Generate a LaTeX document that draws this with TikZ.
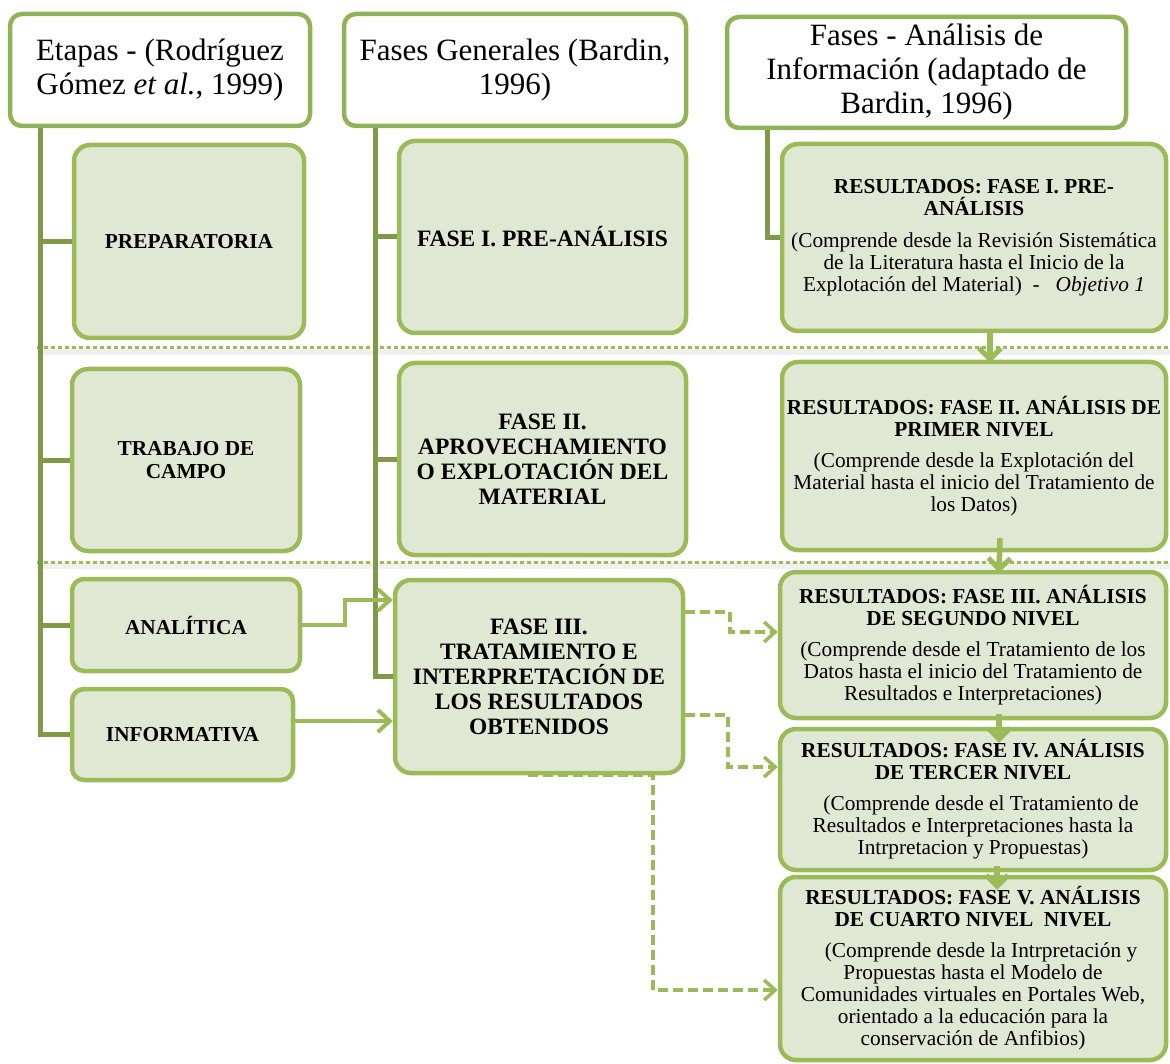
\documentclass[tikz,border=0pt]{standalone}
\usepackage{fontspec}
\setmainfont{Liberation Serif}
\usetikzlibrary{arrows.meta,calc}
\definecolor{boxfill}{HTML}{E0E8D3}
\definecolor{boxline}{HTML}{9BBB59}
\definecolor{spinecol}{HTML}{7E9A48}
\definecolor{headline}{HTML}{8FB356}

\begin{document}
\begin{tikzpicture}[x=1pt,y=-1pt,
  header/.style={draw=headline, line width=4.5pt, fill=white, rounded corners=12pt,
    inner sep=0pt, align=center, font=\fontsize{31}{34}\selectfont},
  stage/.style={draw=boxline, line width=4.5pt, fill=boxfill, rounded corners=16pt,
    inner sep=0pt, align=center},
  leftfont/.style={font=\fontsize{21.3}{23}\selectfont\bfseries},
  midfont/.style={font=\fontsize{23.5}{25}\selectfont\bfseries},
  rightfont/.style={font=\fontsize{21.3}{22}\selectfont},
  spine/.style={draw=spinecol, line width=5pt},
  sepline/.style={draw=boxline, line width=3pt, dash pattern=on 3.5pt off 3.5pt},
  sepshadow/.style={draw=black, opacity=0.06, line width=6pt},
  solidarr/.style={draw=boxline, line width=4.5pt,
    -{Straight Barb[length=12pt,width=22pt,line width=4pt]}},
  dasharr/.style={draw=boxline, line width=3.5pt, dash pattern=on 10pt off 5pt,
    -{Straight Barb[length=11pt,width=20pt,line width=3.5pt]}},
  downarr/.style={draw=boxline, line width=5.5pt,
    -{Straight Barb[length=11pt,width=22pt,line width=5pt]}}
]
\useasboundingbox (0,0) rectangle (1170,1064);
\clip (0,0) rectangle (1170,1064);

% dotted separators between the rows, with a soft shade beneath
\coordinate (sepA1) at (37,348);  \coordinate (sepA2) at (1170,348);
\coordinate (sepB1) at (37,562);  \coordinate (sepB2) at (1170,562);
\draw[sepshadow] ([yshift=-4pt]sepA1) -- ([yshift=-4pt]sepA2);
\draw[sepshadow] ([yshift=-4pt]sepB1) -- ([yshift=-4pt]sepB2);
\draw[sepline] (sepA1) -- (sepA2);
\draw[sepline] (sepB1) -- (sepB2);

% column headers
\node[header, minimum width=300pt, minimum height=112pt] (H1) at (160,70)
  {Etapas - (Rodríguez\\Gómez \textit{et al.}, 1999)};
\node[header, minimum width=342pt, minimum height=112pt] (H2) at (515,70)
  {Fases Generales (Bardin,\\1996)};
\node[header, minimum width=399pt, minimum height=111pt] (H3) at (926.5,72.5)
  {Fases - Análisis de\\Información (adaptado de\\Bardin, 1996)};

% stages
\node[stage, leftfont, minimum width=230pt, minimum height=193pt] (L1) at (189,241.5) {PREPARATORIA};
\node[stage, leftfont, minimum width=228pt, minimum height=182pt] (L2) at (186,460) {TRABAJO DE\\CAMPO};
\node[stage, leftfont, rounded corners=12pt, minimum width=228pt, minimum height=92pt] (L3) at (186,625) {ANALÍTICA};
\node[stage, leftfont, rounded corners=12pt, minimum width=221pt, minimum height=91pt] (L4) at (182.5,734.5) {INFORMATIVA};

% general phases
\node[stage, midfont, minimum width=287pt, minimum height=192pt] (M1) at (542.5,237) {FASE I. PRE-ANÁLISIS};
\node[stage, midfont, minimum width=287pt, minimum height=192pt] (M2) at (542.5,459)
  {FASE II.\\APROVECHAMIENTO\\O EXPLOTACIÓN DEL\\MATERIAL};
\node[stage, midfont, minimum width=288pt, minimum height=193pt] (M3) at (539,676.5)
  {FASE III.\\TRATAMIENTO E\\INTERPRETACIÓN DE\\LOS RESULTADOS\\OBTENIDOS};

% analysis phases
\node[stage, rightfont, minimum width=384pt, minimum height=187pt] (R1) at (974,237.5)
  {\textbf{RESULTADOS: FASE I. PRE-}\\\textbf{ANÁLISIS}\\[10pt]
   (Comprende desde la Revisión Sistemática\\de la Literatura hasta el Inicio de la\\
   Explotación del Material)\ \ -\ \ \ \textit{Objetivo 1}};
\node[stage, rightfont, minimum width=384pt, minimum height=188pt] (R2) at (974,456)
  {\textbf{RESULTADOS: FASE II. ANÁLISIS DE}\\\textbf{PRIMER NIVEL}\\[9pt]
   (Comprende desde la Explotación del\\Material hasta el inicio del Tratamiento de\\los Datos)};
\node[stage, rightfont, minimum width=386pt, minimum height=146pt] (R3) at (973,645)
  {\textbf{RESULTADOS: FASE III. ANÁLISIS}\\\textbf{DE SEGUNDO NIVEL}\\[9pt]
   (Comprende desde el Tratamiento de los\\Datos hasta el inicio del Tratamiento de\\
   Resultados e Interpretaciones)};
\node[stage, rightfont, minimum width=386pt, minimum height=141pt] (R4) at (973,799.5)
  {\textbf{RESULTADOS: FASE IV. ANÁLISIS}\\\textbf{DE TERCER NIVEL}\\[9pt]
   \ \ \ (Comprende desde el Tratamiento de\\Resultados e Interpretaciones hasta la\\
   Intrpretacion y Propuestas)};
\node[stage, rightfont, minimum width=386pt, minimum height=183pt] (R5) at (973,968.5)
  {\textbf{RESULTADOS: FASE V. ANÁLISIS}\\\textbf{DE CUARTO NIVEL\ \ NIVEL}\\[9pt]
   \ \ \ (Comprende desde la Intrpretación y\\Propuestas hasta el Modelo de\\
   Comunidades virtuales en Portales Web,\\orientado a la educación para la\\
   conservación de Anfibios)};

% hierarchy spines
\coordinate (ls) at (40,128);
\draw[spine] (ls) |- (L4.west);
\foreach \n in {L1,L2,L3} \draw[spine] (ls |- \n.west) -- (\n.west);
\coordinate (ms) at (375,128);
\draw[spine] (ms) |- (M3.west);
\foreach \n in {M1,M2} \draw[spine] (ms |- \n.west) -- (\n.west);
\coordinate (rs) at (767,130);
\draw[spine] (rs) |- (R1.west);

% stages feeding phase III
\coordinate (a1) at (345,625);
\coordinate (a2) at (345,600);
\draw[solidarr] (L3.east) -- (a1) -- (a2) -- (M3.west |- a2);
\coordinate (b1) at (295,721);
\draw[solidarr] (L4.east |- b1) -- (M3.west |- b1);

% phase III to the analysis levels
\coordinate (d1) at (730,612);
\coordinate (d2) at (730,632);
\draw[dasharr] (M3.east |- d1) -- (d1) -- (d2) -- (R3.west |- d2);
\coordinate (e1) at (728,715);
\coordinate (e2) at (728,767);
\draw[dasharr] (M3.east |- e1) -- (e1) -- (e2) -- (R4.west |- e2);
\coordinate (f0) at (528,775);
\coordinate (f1) at (653,775);
\coordinate (f2) at (653,990);
\draw[dasharr] (f0) -- (f1) -- (f2) -- (R5.west |- f2);

% sequence of analysis levels
\draw[downarr] ([xshift=16pt,yshift=4pt]R1.south) -- ([xshift=16pt,yshift=-3pt]R2.north);
\draw[downarr] ([xshift=26pt,yshift=14pt]R2.south) -- ([xshift=26pt,yshift=-3pt]R3.north);
\draw[downarr] ([xshift=26pt,yshift=6pt]R3.south) -- ([xshift=26pt,yshift=-16pt]R4.north);
\draw[downarr] ([xshift=24pt,yshift=6pt]R4.south) -- ([xshift=24pt,yshift=-15pt]R5.north);
\end{tikzpicture}
\end{document}
